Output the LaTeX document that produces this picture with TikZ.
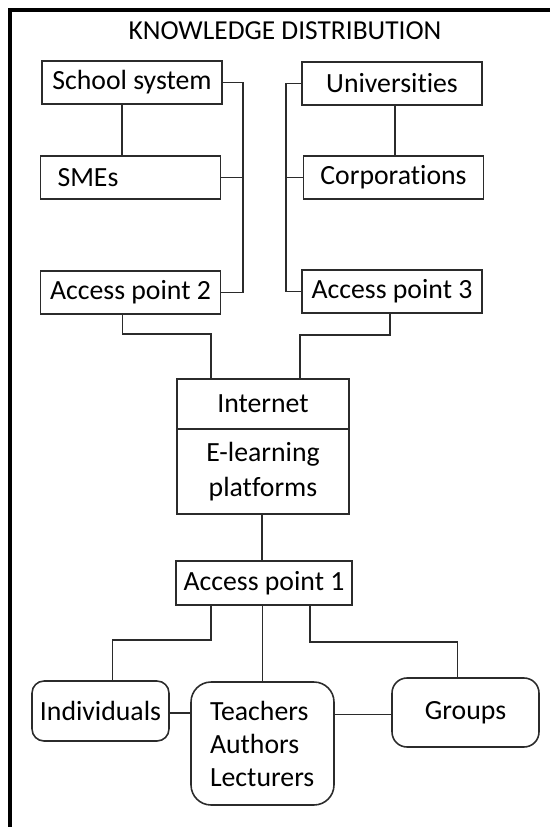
\documentclass[tikz,border=0pt]{standalone}
\usepackage{fontspec}
\setmainfont{Carlito}[Ligatures=NoCommon]
\usepackage{tikz}
\usepackage{xcolor}
\usetikzlibrary{calc,positioning}
\definecolor{KdLine}{HTML}{2B2B2B}
\tikzset{
  kdbox/.style={draw=KdLine, line width=0.9pt, fill=white, align=center, inner sep=1pt, font=\fontsize{15.8}{19.5}\selectfont},
  kdround/.style={kdbox, rounded corners=3mm},
  kdlink/.style={draw=KdLine, line width=0.9pt},
  kdframe/.style={draw=black, line width=2.2pt}
}
\begin{document}
\begin{tikzpicture}[x=0.02cm, y=-0.02cm]
  \useasboundingbox (0,0) rectangle (550,827);
  \clip (0,0) rectangle (550,827);
  \draw[kdframe] (10,840) -- (10,10) -- (560,10);
  \node[font=\fontsize{15.6}{18}\selectfont] (title) at (285,31) {KNOWLEDGE DISTRIBUTION};
  % left column
  \node[kdbox, minimum width=36mm, minimum height=8.6mm] (school) at (132,82.5) {School system};
  \node[kdbox, minimum height=8.6mm, text width=29.2mm, inner xsep=3.4mm, align=left] (smes) at (130.5,177.5) {SMEs};
  \node[kdbox, minimum width=36mm, minimum height=8.6mm] (ap2) at (130.5,292.5) {Access point 2};
  % right column
  \node[kdbox, minimum width=36mm, minimum height=8.6mm] (univ) at (392,83.5) {Universities};
  \node[kdbox, minimum width=36mm, minimum height=8.6mm] (corp) at (393.5,177.5) {Corporations};
  \node[kdbox, minimum width=36mm, minimum height=8.6mm] (ap3) at (392,291.5) {Access point 3};
  % middle
  \node[kdbox, minimum width=34.4mm, minimum height=10mm] (internet) at (263,404) {Internet};
  \node[kdbox, minimum width=34.4mm, minimum height=17mm] (elearn) at (263,471.5) {E-learning\\platforms};
  \node[kdbox, minimum width=35.2mm, minimum height=8.8mm] (ap1) at (264,583) {Access point 1};
  % users
  \node[kdround, rounded corners=2.4mm, minimum width=27.4mm, minimum height=12mm] (indiv) at (100.5,711) {Individuals};
  \node[kdround, rounded corners=4mm, minimum height=24.6mm, text width=21mm, inner xsep=3.8mm, align=left, font=\fontsize{15.8}{18.8}\selectfont] (teach) at (262.5,743.5) {Teachers\\Authors\\Lecturers};
  \node[kdround, minimum width=29.4mm, minimum height=13.8mm] (groups) at (465.5,712.5) {Groups};

  \draw[kdlink] (school.east) -- ++(20,0) |- (ap2.east);
  \draw[kdlink] (smes.east) -- ++(22,0);
  \draw[kdlink] ([shift={(-10,0)}]school.south) -- ([shift={(-10,0)}]school.south |- smes.north);
  \draw[kdlink] (univ.west) -- ++(-15,0) |- (ap3.west);
  \draw[kdlink] (corp.west) -- ++(-17,0);
  \draw[kdlink] ([shift={(3,0)}]univ.south) -- ([shift={(3,0)}]univ.south |- corp.north);
  \draw[kdlink] ([shift={(-8,0)}]ap2.south) -- ++(0,19) -| ([shift={(-52,0)}]internet.north);
  \draw[kdlink] ([shift={(-2,0)}]ap3.south) -- ++(0,21) -| ([shift={(37,0)}]internet.north);
  \draw[kdlink] ([shift={(-1,0)}]elearn.south) -- ([shift={(-1,0)}]elearn.south |- ap1.north);
  \draw[kdlink] ([shift={(-53,0)}]ap1.south) -- ++(0,34) -| ([shift={(12,0)}]indiv.north);
  \draw[kdlink] (teach.north |- ap1.south) -- (teach.north);
  \draw[kdlink] ([shift={(46,0)}]ap1.south) -- ++(0,36) -| ([shift={(-8,0)}]groups.north);
  \draw[kdlink] ([shift={(0,2)}]indiv.east) -- ([shift={(0,2)}]indiv.east -| teach.west);
  \draw[kdlink] ([shift={(0,2)}]teach.east |- groups.west) -- ([shift={(0,2)}]groups.west);
\end{tikzpicture}
\end{document}
